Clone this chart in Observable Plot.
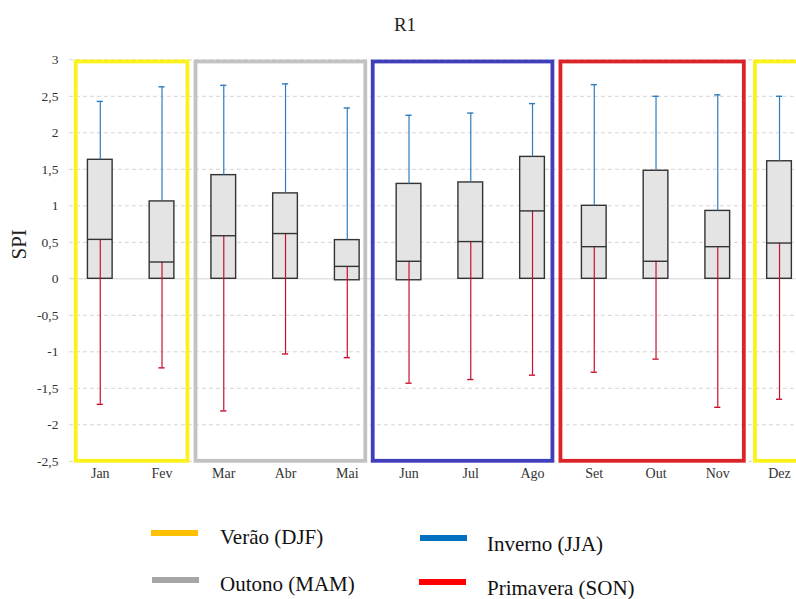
<!DOCTYPE html>
<html>
<head>
<meta charset="utf-8">
<script src="https://cdn.jsdelivr.net/npm/d3@7"></script>
<script src="https://cdn.jsdelivr.net/npm/@observablehq/plot@0.6"></script>
<style>
  html, body { margin: 0; padding: 0; background: #fff; }
  #wrap { position: relative; width: 796px; height: 599px; overflow: hidden; background: #fff; font-family: "Liberation Serif", "Times New Roman", serif; }
  #title { position: absolute; left: 0; top: 15px; width: 810px; text-align: center; font-size: 19px; line-height: 19px; color: #222; }
  #chart { position: absolute; left: 0; top: 0; }
  #chart svg text { font-family: "Liberation Serif", "Times New Roman", serif; }
  .lg-bar { position: absolute; height: 6px; width: 47px; }
  .lg-txt { position: absolute; font-size: 21px; line-height: 21px; color: #111; white-space: nowrap; }
</style>
</head>
<body>
<div id="wrap">
  <div id="chart"></div>
  <div id="title"></div>
  <div id="legend"></div>
</div>
<script>
// ---- data ----
const titleText = "R1";
const yLabel = "SPI";
const months = ["Jan","Fev","Mar","Abr","Mai","Jun","Jul","Ago","Set","Out","Nov","Dez"];
const whiskerMin = [-1.72,-1.22,-1.81,-1.03,-1.08,-1.43,-1.38,-1.32,-1.28,-1.10,-1.76,-1.65];
const boxLow     = [0, 0, 0, 0, -0.02, -0.02, 0, 0, 0, 0, 0, 0];
const medians    = [0.54,0.23,0.59,0.62,0.17,0.24,0.51,0.93,0.44,0.24,0.44,0.49];
const boxHigh    = [1.63,1.06,1.42,1.17,0.53,1.30,1.32,1.67,1.00,1.48,0.93,1.61];
const whiskerMax = [2.43,2.63,2.65,2.67,2.34,2.24,2.27,2.40,2.66,2.50,2.52,2.50];
const yTicks = [-2.5,-2,-1.5,-1,-0.5,0,0.5,1,1.5,2,2.5,3];

// season frames, in month-index units
const seasonStart = [-0.39, 1.55, 4.42, 7.46, 10.61];
const seasonEnd   = [1.42, 4.30, 7.33, 10.43, 12.5];
const seasonColor = ["#fbf21c", "#c2c2c2", "#3f3fbc", "#dc2428", "#fbf21c"];
const frameBottom = -2.5;
const frameTop = 2.97;

const legendLabels = ["Verão (DJF)", "Outono (MAM)", "Inverno (JJA)", "Primavera (SON)"];
const legendColors = ["#ffc000", "#a6a6a6", "#0070c0", "#ff0000"];

// ---- tables ----
const data = months.map((m, i) => ({
  m, i, min: whiskerMin[i], q1: boxLow[i], med: medians[i], q3: boxHigh[i], max: whiskerMax[i]
}));
const seasons = seasonStart.map((s, k) => ({ s, e: seasonEnd[k], c: seasonColor[k], lo: frameBottom, hi: frameTop }));

const fmt = d => String(d).replace(".", ",");
const boxHalf = 0.2, capHalf = 0.05;
const whiskBlue = "#2f7dbf", whiskRed = "#c8102e", edge = "#333";
const font = "'Liberation Serif', 'Times New Roman', serif";

const chart = Plot.plot({
  width: 796,
  height: 500,
  marginTop: 59.3,
  marginBottom: 39.2,
  marginLeft: 68.9,
  marginRight: 0,
  style: { fontFamily: font, overflow: "hidden", background: "white" },
  x: { domain: [-0.5, 11.5], range: [68.9, 809.9], axis: null },
  y: { domain: [-2.5, 3], axis: null },
  color: { type: "identity" },
  marks: [
    Plot.ruleY(yTicks.filter(d => d !== 0), { y: d => d, stroke: "#d4d4d4", strokeDasharray: "4,3" }),
    Plot.ruleY([0], { y: d => d, stroke: "#d4d4d4" }),
    Plot.rect(seasons, { x1: "s", x2: "e", y1: "lo", y2: "hi", stroke: "c", fill: "none", strokeWidth: 3.8 }),
    Plot.rect(data, { x1: d => d.i - boxHalf, x2: d => d.i + boxHalf, y1: "q1", y2: "q3", fill: "#e4e4e4", stroke: edge, strokeWidth: 1.4 }),
    Plot.ruleX(data, { x: "i", y1: "q3", y2: "max", stroke: whiskBlue, strokeWidth: 1.2 }),
    Plot.ruleY(data, { x1: d => d.i - capHalf, x2: d => d.i + capHalf, y: "max", stroke: whiskBlue, strokeWidth: 1.4 }),
    Plot.ruleX(data, { x: "i", y1: "med", y2: "min", stroke: whiskRed, strokeWidth: 1.2 }),
    Plot.ruleY(data, { x1: d => d.i - capHalf, x2: d => d.i + capHalf, y: "min", stroke: whiskRed, strokeWidth: 1.4 }),
    Plot.ruleY(data, { x1: d => d.i - boxHalf, x2: d => d.i + boxHalf, y: "med", stroke: edge, strokeWidth: 1.4 }),
    Plot.text(yTicks, { y: d => d, frameAnchor: "left", dx: -11, textAnchor: "end", text: fmt, fontSize: 13.5, fill: "#333", fontFamily: font }),
    Plot.text(data, { x: "i", frameAnchor: "bottom", dy: 17, text: "m", fontSize: 14, fill: "#333", fontFamily: font }),
    Plot.text([yLabel], { frameAnchor: "left", dx: -50, dy: -1, rotate: -90, text: d => d, fontSize: 21, fill: "#222", fontFamily: font })
  ]
});
document.getElementById("chart").appendChild(chart);
document.getElementById("title").textContent = titleText;

// ---- legend ----
const legendPos = [
  { bx: 151, by: 530, tx: 220, ty: 527 },
  { bx: 152, by: 577, tx: 220, ty: 574 },
  { bx: 420, by: 535, tx: 487, ty: 534 },
  { bx: 419, by: 579, tx: 487, ty: 578 }
];
const lg = document.getElementById("legend");
legendLabels.forEach((t, k) => {
  const p = legendPos[k];
  const b = document.createElement("div");
  b.className = "lg-bar";
  b.style.left = p.bx + "px"; b.style.top = p.by + "px"; b.style.background = legendColors[k];
  lg.appendChild(b);
  const s = document.createElement("div");
  s.className = "lg-txt";
  s.style.left = p.tx + "px"; s.style.top = p.ty + "px";
  s.textContent = t;
  lg.appendChild(s);
});
</script>
</body>
</html>
